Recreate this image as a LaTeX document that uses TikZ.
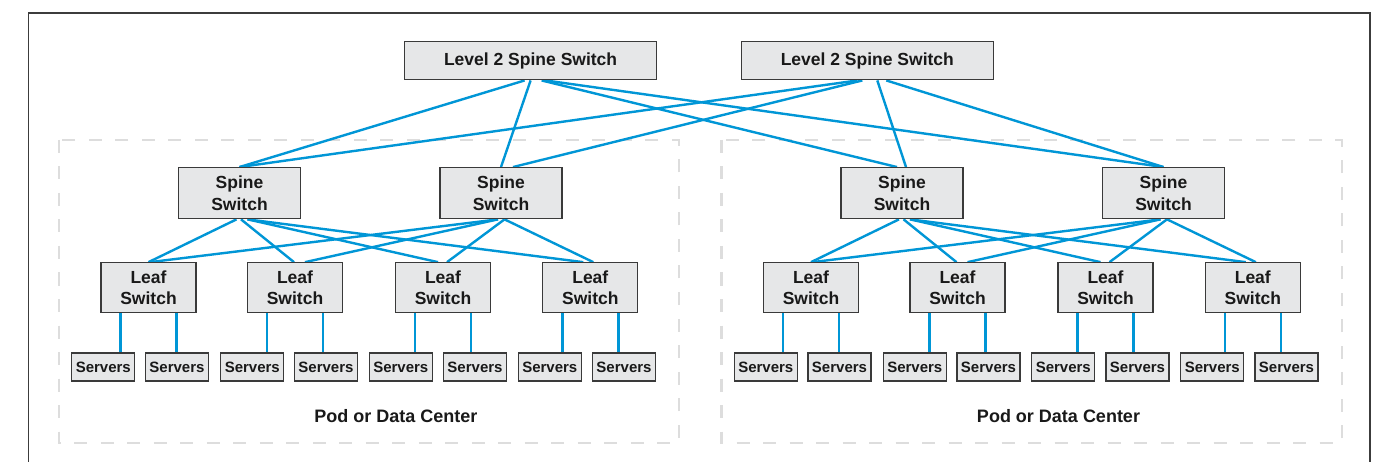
\documentclass[tikz,border=0pt]{standalone}
\usepackage{fontspec}
\setmainfont{Liberation Sans}
\usetikzlibrary{backgrounds}
\definecolor{netblue}{RGB}{0,150,214}
\definecolor{boxfill}{RGB}{230,231,232}
\definecolor{boxline}{RGB}{58,58,58}
\definecolor{podline}{RGB}{221,221,221}
\definecolor{frameline}{RGB}{60,60,60}
\begin{document}
\begin{tikzpicture}[x=1pt,y=-1pt,
  box/.style={draw=boxline,fill=boxfill,line width=1.3pt,inner sep=0pt,align=center,text=black!90,font=\fontsize{17.5}{21.5}\selectfont\bfseries},
  l2box/.style={box,minimum width=252pt,minimum height=38pt},
  spinebox/.style={box,minimum width=122pt,minimum height=51pt},
  leafbox/.style={box,minimum width=95pt,minimum height=50pt},
  serverbox/.style={box,minimum width=63pt,minimum height=28pt,font=\fontsize{15}{18}\selectfont\bfseries},
  link/.style={draw=netblue,line width=2.4pt},
  pod/.style={draw=podline,line width=2.2pt,dash pattern=on 13pt off 13.5pt},
  podlabel/.style={font=\fontsize{18}{22}\selectfont\bfseries,text=black!90,inner sep=0pt}
]
\useasboundingbox (0,0) rectangle (1386,462);
\draw[line width=1.5pt,draw=frameline] (28.7,462) -- (28.7,13) -- (1370,13) -- (1370,462);

% nodes
\node[l2box] (l2a) at (530.6,60.8) {Level 2 Spine Switch};
\node[l2box] (l2b) at (867.3,60.8) {Level 2 Spine Switch};
\foreach \i/\x in {1/239.5,2/501,3/902,4/1163.5}
  \node[spinebox] (sp\i) at (\x,193.2) {Spine\\Switch};
\foreach \i/\x in {1/148.5,2/295,3/443,4/590.3,5/811,6/957.5,7/1105.5,8/1252.8}
  \node[leafbox] (lf\i) at (\x,287.8) {Leaf\\Switch};
\foreach \i/\x in {1/103.3,2/177,3/252.3,4/326,5/400.8,6/475,7/549.8,8/624,
                   9/765.8,10/839.5,11/914.8,12/988.5,13/1063.3,14/1137.5,15/1212.3,16/1286.5}
  \node[serverbox] (sv\i) at (\x,367) {Servers};
\node[podlabel] (pod1) at (396,416) {Pod or Data Center};
\node[podlabel] (pod2) at (1058.5,416) {Pod or Data Center};

\begin{scope}[on background layer]
  \fill[white] (0,0) rectangle (1386,462);
  \draw[pod] (59,140) rectangle (678.6,442.7);
  \draw[pod] (721.4,140) rectangle (1341.7,442.7);
  % level 2 links
  \draw[link] ([xshift=-6pt]l2a.south) -- (sp1.north);
  \draw[link] (l2a.south) -- (sp2.north);
  \draw[link] ([xshift=11pt]l2a.south) -- ([xshift=-5pt]sp3.north);
  \draw[link] ([xshift=15pt]l2a.south) -- (sp4.north);
  \draw[link] ([xshift=-10pt]l2b.south) -- (sp1.north);
  \draw[link] ([xshift=-5pt]l2b.south) -- ([xshift=12pt]sp2.north);
  \draw[link] ([xshift=10pt]l2b.south) -- ([xshift=4pt]sp3.north);
  \draw[link] ([xshift=19pt]l2b.south) -- (sp4.north);
  % spine to leaf links
  \foreach \sa/\sb/\o in {1/2/0,3/4/4}{
    \pgfmathtruncatemacro{\la}{1+\o}
    \pgfmathtruncatemacro{\lb}{2+\o}
    \pgfmathtruncatemacro{\lc}{3+\o}
    \pgfmathtruncatemacro{\ld}{4+\o}
    \draw[link] ([xshift=-3pt]sp\sa.south) -- (lf\la.north);
    \draw[link] ([xshift=1.5pt]sp\sa.south) -- ([xshift=-1pt]lf\lb.north);
    \draw[link] ([xshift=8pt]sp\sa.south) -- ([xshift=-5pt]lf\lc.north);
    \draw[link] ([xshift=8pt]sp\sa.south) -- ([xshift=-7pt]lf\ld.north);
    \draw[link] ([xshift=-3pt]sp\sb.south) -- ([xshift=1.5pt]lf\la.north);
    \draw[link] ([xshift=-3pt]sp\sb.south) -- ([xshift=10pt]lf\lb.north);
    \draw[link] ([xshift=3.5pt]sp\sb.south) -- ([xshift=4pt]lf\lc.north);
    \draw[link] ([xshift=3.5pt]sp\sb.south) -- ([xshift=3pt]lf\ld.north);
  }
  % leaf to server links
  \foreach \l in {1,...,8}{
    \pgfmathtruncatemacro{\a}{2*\l-1}
    \pgfmathtruncatemacro{\b}{2*\l}
    \draw[link] ([xshift=-28pt]lf\l.south) -- ([xshift=-28pt]lf\l.south |- sv\a.north);
    \draw[link] ([xshift=28pt]lf\l.south) -- ([xshift=28pt]lf\l.south |- sv\b.north);
  }
\end{scope}
\end{tikzpicture}
\end{document}
